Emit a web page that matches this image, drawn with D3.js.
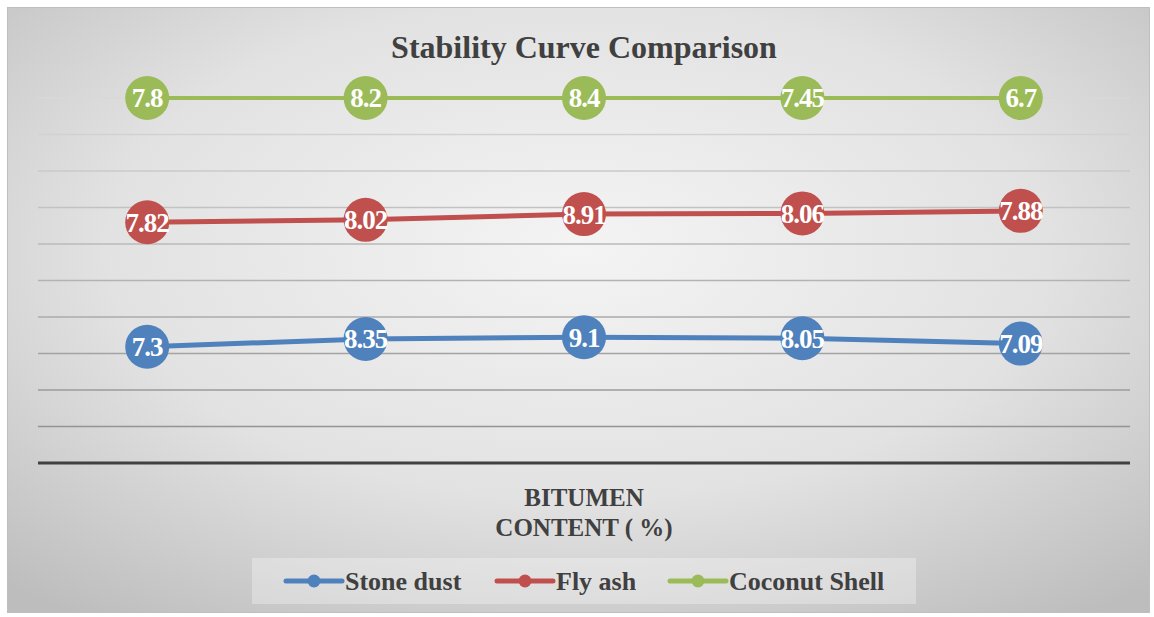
<!DOCTYPE html>
<html>
<head>
<meta charset="utf-8">
<script src="https://cdn.jsdelivr.net/npm/d3@7"></script>
<style>
    body { margin: 0; background: #fff; }
    text { font-family: "Liberation Serif", serif; font-weight: 700; }
</style>
</head>
<body>
<div id="chart"></div>
<script>
// data (100% stacked line chart, labels show raw values)
const categories = ["1", "2", "3", "4", "5"];
const seriesNames = ["Stone dust", "Fly ash", "Coconut Shell"];
const stoneDust = [7.3, 8.35, 9.1, 8.05, 7.09];
const flyAsh = [7.82, 8.02, 8.91, 8.06, 7.88];
const coconutShell = [7.8, 8.2, 8.4, 7.45, 6.7];
const colors = ["#4f81bd", "#c0504d", "#9bbb59"];
const yTicks = [0, 0.1, 0.2, 0.3, 0.4, 0.5, 0.6, 0.7, 0.8, 0.9, 1];

const W = 1154, H = 617;
const svg = d3.select("#chart").append("svg")
    .attr("width", W)
    .attr("height", H);

// background gradient
const defs = svg.append("defs");
const bg = defs.append("radialGradient").attr("id", "bg")
    .attr("cx", "50%").attr("cy", "40%").attr("r", "75%");
bg.append("stop").attr("offset", "0%").attr("stop-color", "#f4f4f4");
bg.append("stop").attr("offset", "55%").attr("stop-color", "#e2e2e2");
bg.append("stop").attr("offset", "100%").attr("stop-color", "#bdbdbd");

svg.append("rect")
    .attr("x", 7.5).attr("y", 7.5)
    .attr("width", 1142).attr("height", 605)
    .attr("fill", "url(#bg)")
    .attr("stroke", "#bfbfbf")
    .attr("stroke-width", 1);

const margin = {left: 38, right: 24, top: 98, bottom: 154};
const plotW = W - margin.left - margin.right;
const plotH = H - margin.top - margin.bottom;

const g = svg.append("g")
    .attr("transform", "translate(" + margin.left + "," + margin.top + ")");

const x = d3.scaleBand().domain(categories).range([0, plotW]);
const y = d3.scaleLinear().domain([0, 1]).range([plotH, 0]);
const gridColor = d3.scaleLinear().domain([0, 1]).range(["#8c8c8c", "#d9d9d9"]);

// gridlines
g.selectAll(".grid")
    .data(yTicks.slice(1))
    .enter().append("line")
    .attr("class", "grid")
    .attr("x1", 0).attr("x2", plotW)
    .attr("y1", d => y(d)).attr("y2", d => y(d))
    .attr("stroke", d => gridColor(d))
    .attr("stroke-width", 1.3);

// x axis line
g.append("line")
    .attr("x1", 0).attr("x2", plotW)
    .attr("y1", y(0)).attr("y2", y(0))
    .attr("stroke", "#404040")
    .attr("stroke-width", 3);

// build stacked percentage data
const raw = [stoneDust, flyAsh, coconutShell];
const totals = categories.map((c, i) => raw.reduce((s, arr) => s + arr[i], 0));
const series = raw.map((arr, si) => ({
    name: seriesNames[si],
    color: colors[si],
    points: categories.map((c, i) => {
        let cum = 0;
        for (let k = 0; k <= si; k++) cum += raw[k][i];
        return {cat: c, value: arr[i], pct: cum / totals[i]};
    })
}));

const line = d3.line()
    .x(d => x(d.cat) + x.bandwidth() / 2)
    .y(d => y(d.pct));

series.forEach((s, si) => {
    const sg = g.append("g");
    sg.append("path")
        .datum(s.points)
        .attr("fill", "none")
        .attr("stroke", s.color)
        .attr("stroke-width", si === 2 ? 4 : 5)
        .attr("d", line);
    sg.selectAll("circle")
        .data(s.points)
        .enter().append("circle")
        .attr("cx", d => x(d.cat) + x.bandwidth() / 2)
        .attr("cy", d => y(d.pct))
        .attr("r", 22)
        .attr("fill", s.color);
    sg.selectAll("text")
        .data(s.points)
        .enter().append("text")
        .attr("x", d => x(d.cat) + x.bandwidth() / 2)
        .attr("y", d => y(d.pct))
        .attr("dy", "0.35em")
        .attr("text-anchor", "middle")
        .attr("font-size", "27px")
        .attr("fill", "#fff")
        .attr("letter-spacing", "-1px")
        .text(d => d.value);
});

// title
svg.append("text")
    .attr("x", 584).attr("y", 58)
    .attr("text-anchor", "middle")
    .attr("font-size", "32px")
    .attr("fill", "#404040")
    .text("Stability Curve Comparison");

// axis title
const at = svg.append("text")
    .attr("text-anchor", "middle")
    .attr("font-size", "25px")
    .attr("fill", "#404040");
at.append("tspan").attr("x", 584).attr("y", 506).text("BITUMEN");
at.append("tspan").attr("x", 584).attr("y", 536).text("CONTENT ( %)");

// legend
svg.append("rect")
    .attr("x", 252).attr("y", 558)
    .attr("width", 664).attr("height", 46)
    .attr("fill", "#ffffff")
    .attr("fill-opacity", 0.3);

const legendX = [286, 497, 670];
seriesNames.forEach((name, i) => {
    const lg = svg.append("g").attr("transform", "translate(" + legendX[i] + ",581)");
    lg.append("line")
        .attr("x1", 0).attr("x2", 56)
        .attr("stroke", colors[i])
        .attr("stroke-width", 5)
        .attr("stroke-linecap", "round");
    lg.append("circle")
        .attr("cx", 28).attr("r", 6.5)
        .attr("fill", colors[i]);
    lg.append("text")
        .attr("x", 59).attr("dy", "0.35em")
        .attr("font-size", "26px")
        .attr("fill", "#404040")
        .text(name);
});
</script>
</body>
</html>
